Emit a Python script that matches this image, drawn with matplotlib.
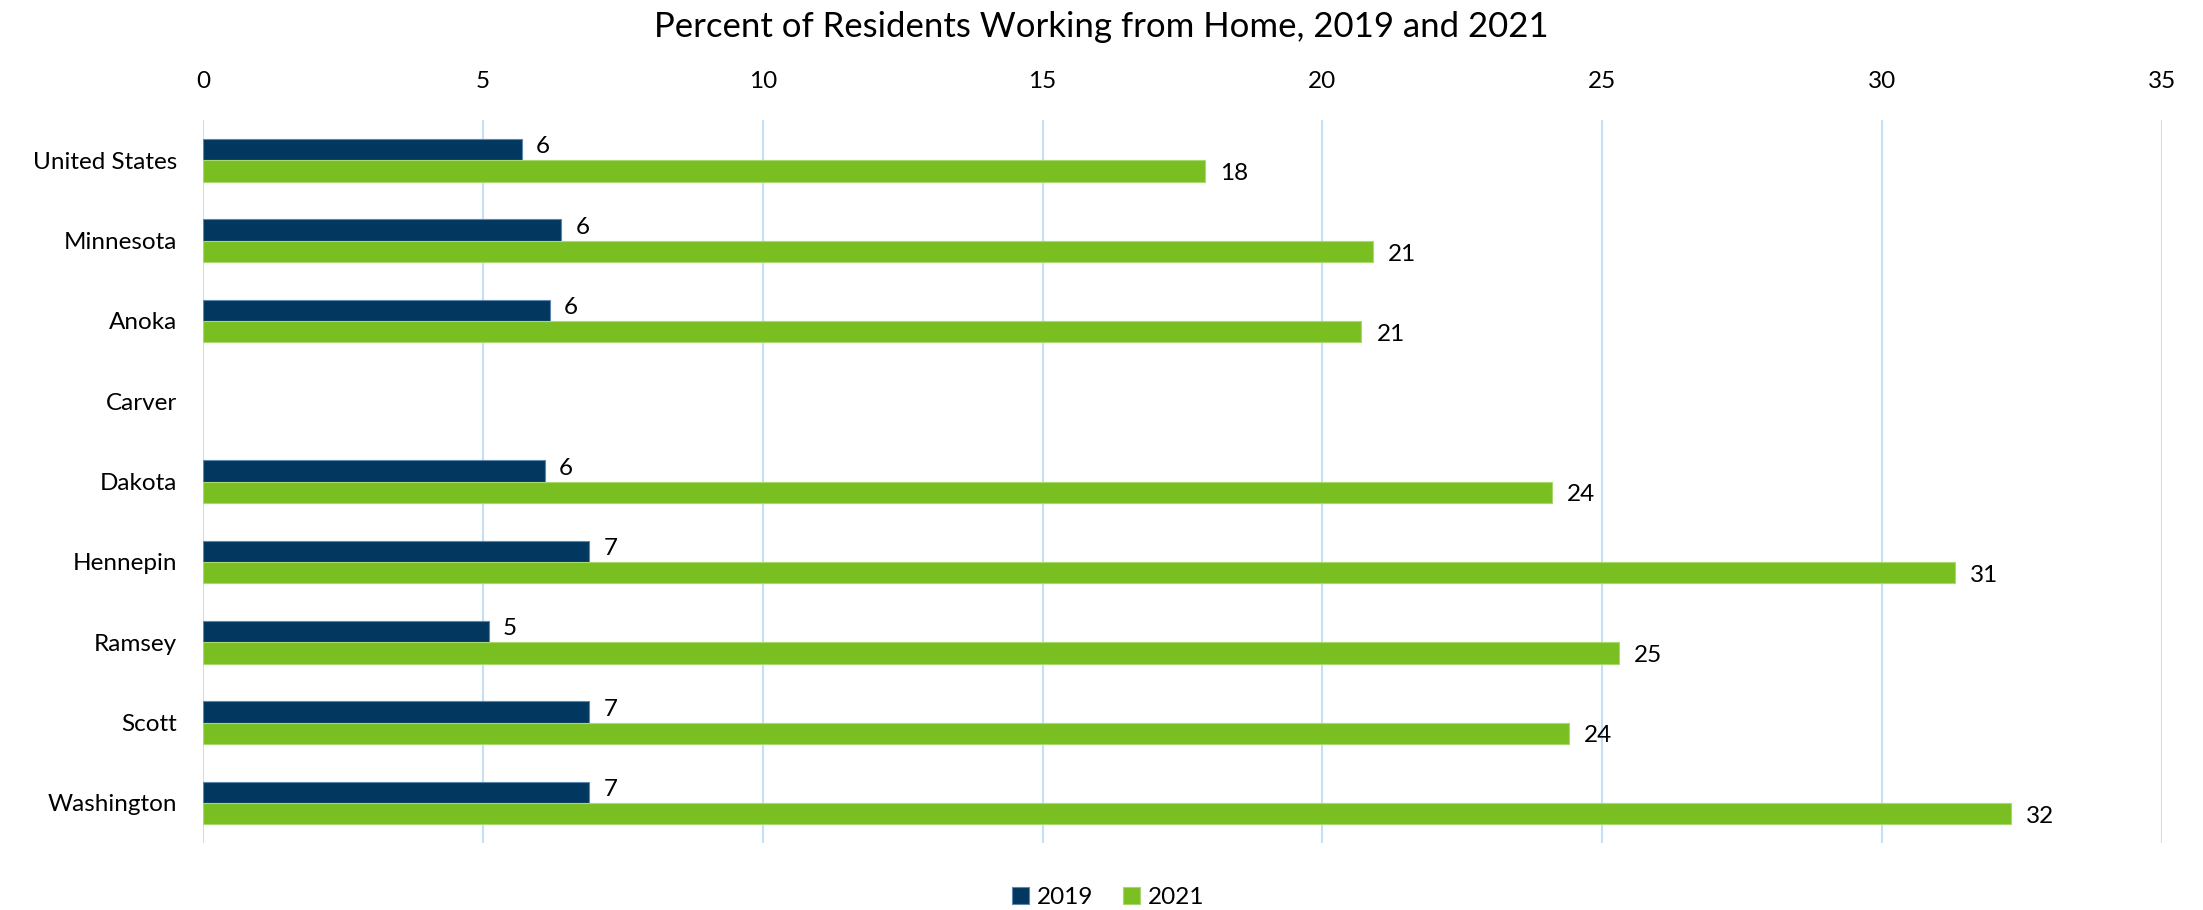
import numpy as np
import matplotlib
matplotlib.use('Agg')
import matplotlib.pyplot as plt

plt.rcParams['font.family'] = ['Lato', 'DejaVu Sans']

# data
places = ['United States', 'Minnesota', 'Anoka', 'Carver', 'Dakota',
          'Hennepin', 'Ramsey', 'Scott', 'Washington']
wfh_2019 = [5.7, 6.4, 6.2, np.nan, 6.1, 6.9, 5.1, 6.9, 6.9]
wfh_2021 = [17.9, 20.9, 20.7, np.nan, 24.1, 31.3, 25.3, 24.4, 32.3]
xticks = [0, 5, 10, 15, 20, 25, 30, 35]

navy = '#02375f'
green = '#7abf22'
grid_col = '#c3e0f7'
fs = 17.5

fig = plt.figure(figsize=(22.03, 9.10), dpi=100)
ax = fig.add_axes([0.0923, 0.0736, 0.9812 - 0.0923, 0.868 - 0.0736])

y = np.arange(len(places))
h = 0.265
v19 = np.array(wfh_2019, dtype=float)
v21 = np.array(wfh_2021, dtype=float)
ok = ~np.isnan(v19)

ax.barh(y[ok] - h / 2, v19[ok], height=h, color=navy, edgecolor='#5b87b0', linewidth=0.8, label='2019', zorder=3)
ax.barh(y[ok] + h / 2, v21[ok], height=h, color=green, edgecolor='#a9d86e', linewidth=0.8, label='2021', zorder=3)

# data labels (rounded)
for yy, v in zip(y[ok] - h / 2, v19[ok]):
    ax.annotate(f'{v:.0f}', (v, yy), xytext=(10, 2), textcoords='offset points',
                va='center', ha='left', fontsize=fs)
for yy, v in zip(y[ok] + h / 2, v21[ok]):
    ax.annotate(f'{v:.0f}', (v, yy), xytext=(11, -2), textcoords='offset points',
                va='center', ha='left', fontsize=fs)

ax.set_xlim(0, 35)
ax.set_ylim(len(places) - 0.5, -0.5)
ax.set_xticks(xticks)
ax.set_yticks(y)
ax.set_yticklabels(places)
ax.xaxis.tick_top()
ax.tick_params(axis='x', length=0, pad=20, labelsize=fs)
ax.tick_params(axis='y', length=0, pad=19, labelsize=fs)
ax.grid(axis='x', color=grid_col, linewidth=1.5, zorder=0)
for s in ax.spines.values():
    s.set_visible(False)

fig.suptitle('Percent of Residents Working from Home, 2019 and 2021', fontsize=25, y=0.988, x=0.5)

fig.legend(loc='center', bbox_to_anchor=(0.503, 0.014), ncol=2, frameon=False, fontsize=fs,
           handlelength=0.7, handleheight=0.7, handletextpad=0.35, columnspacing=1.2)

fig.savefig('out.png', dpi=100)
